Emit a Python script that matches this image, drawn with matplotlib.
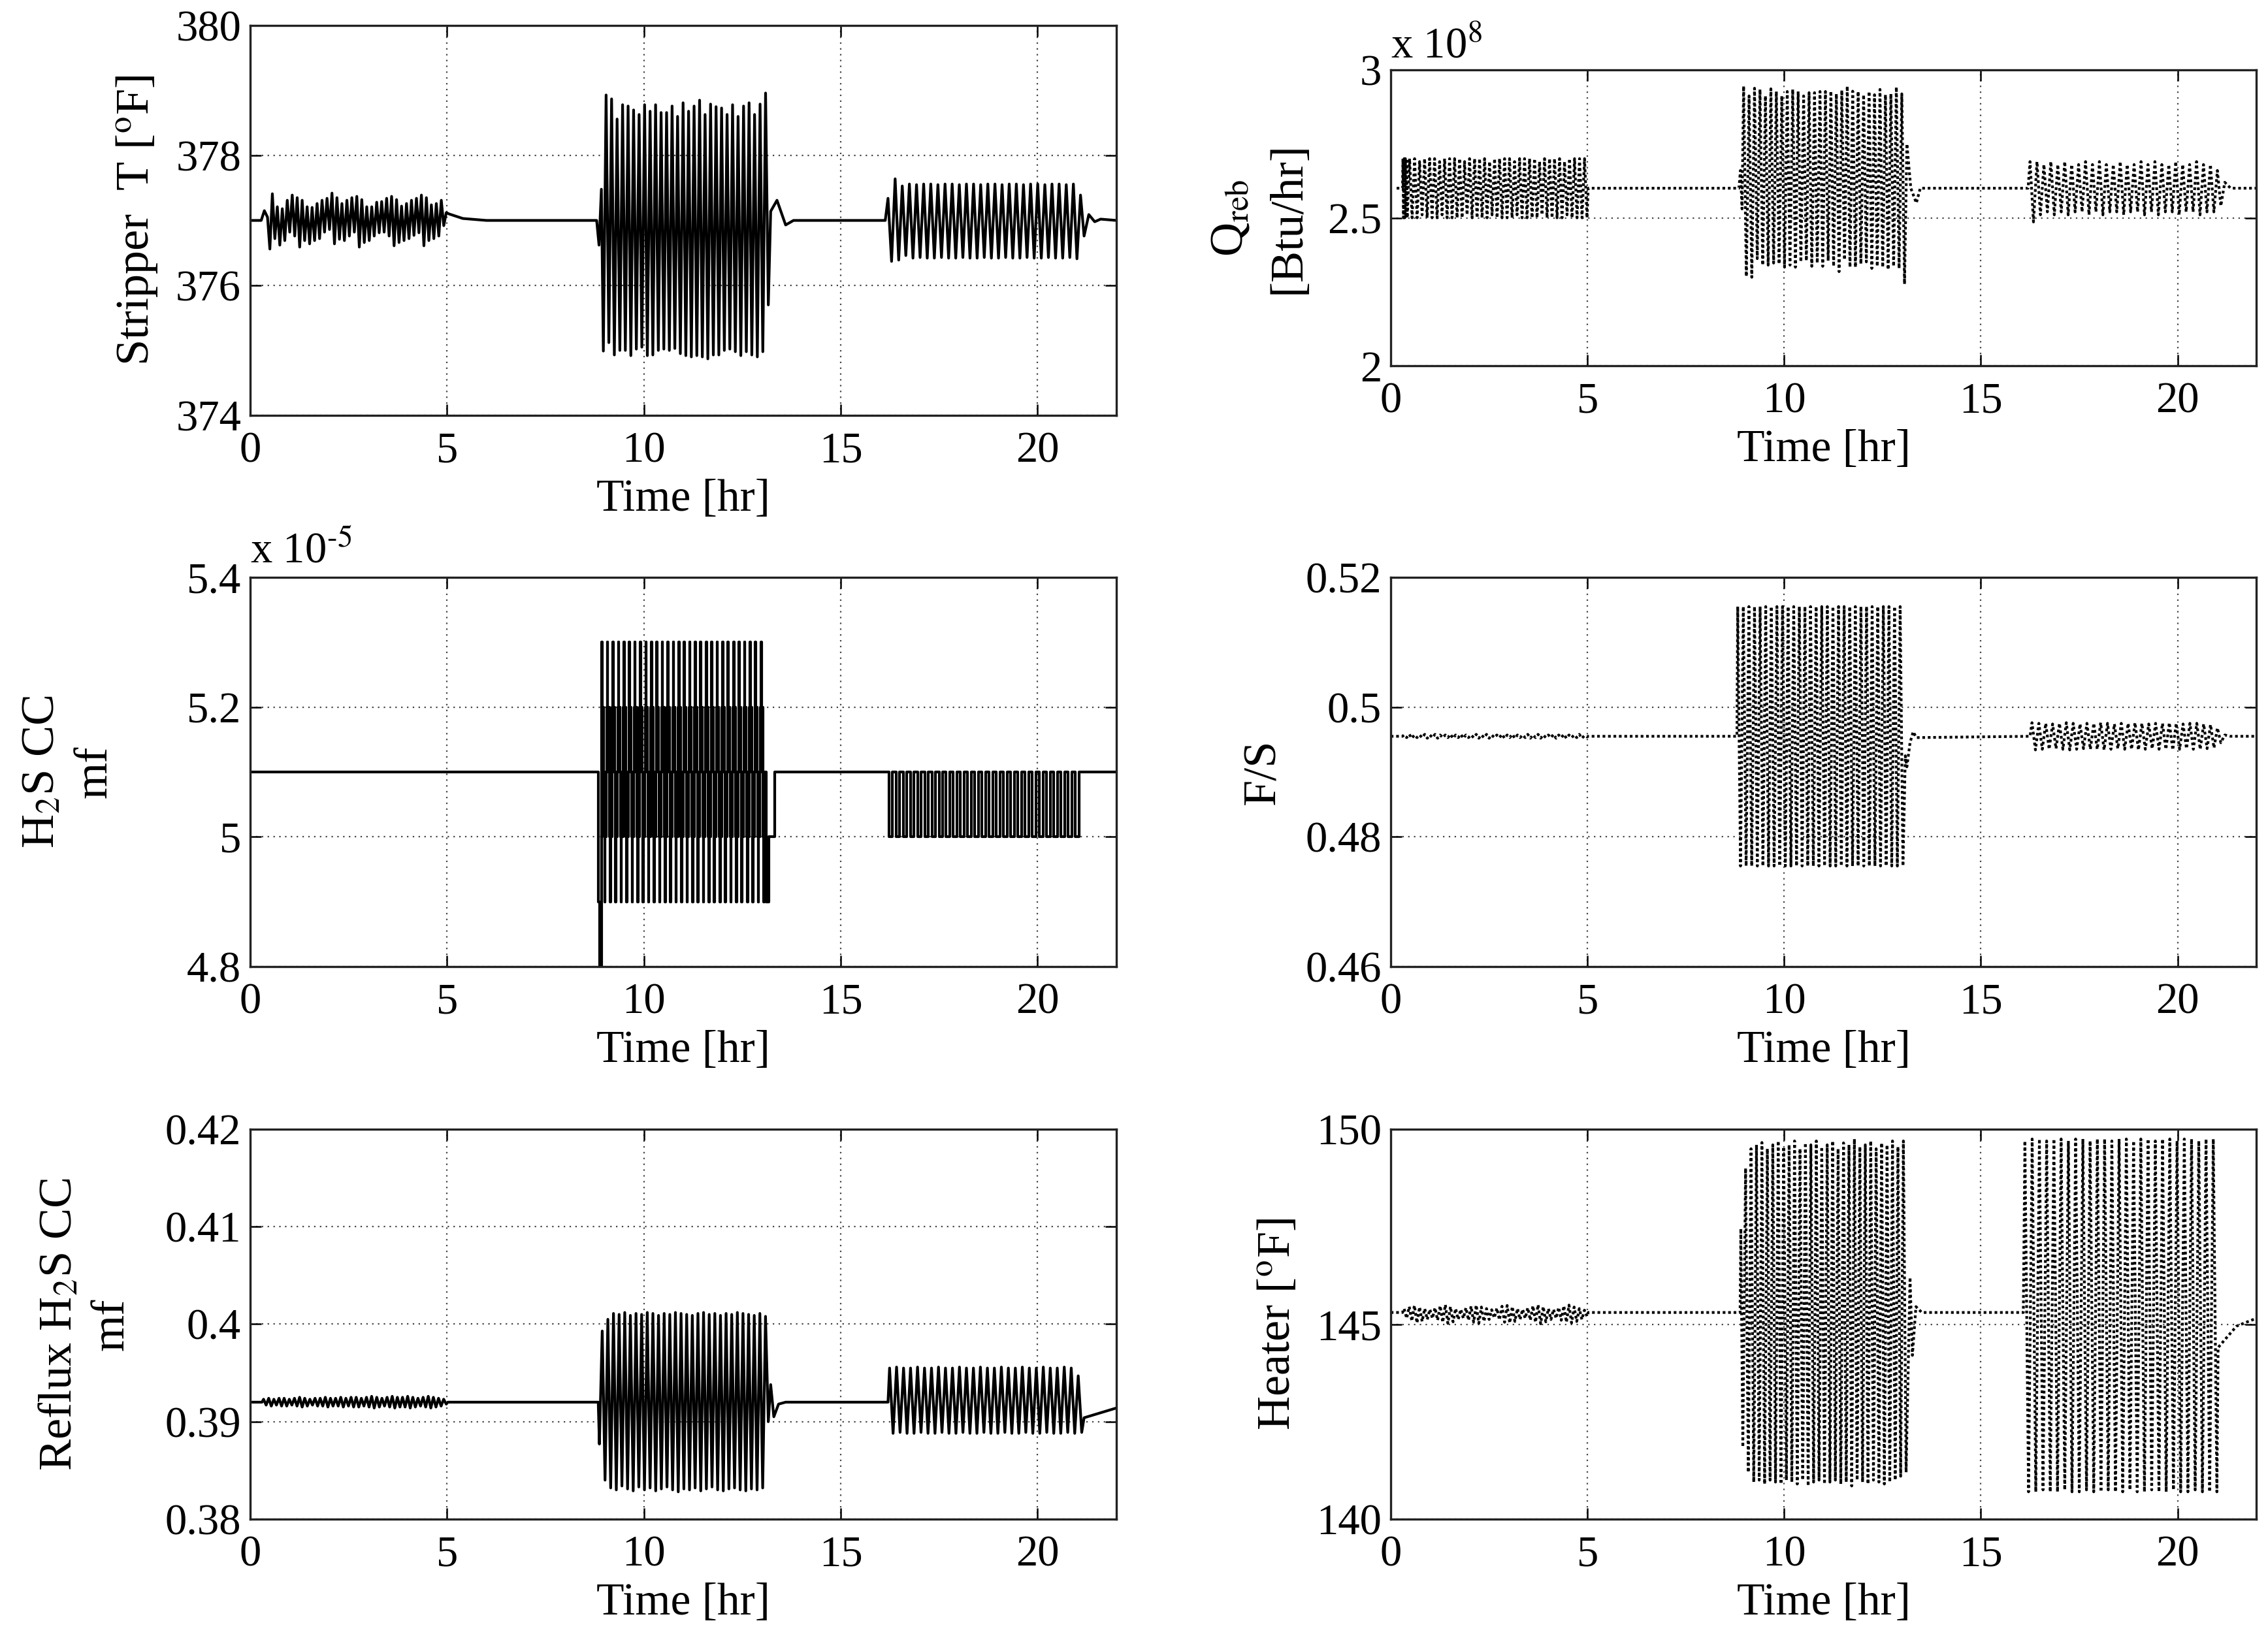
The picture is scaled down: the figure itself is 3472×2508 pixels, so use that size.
import numpy as np
import matplotlib
matplotlib.use("Agg")
import matplotlib.pyplot as plt
from matplotlib.ticker import FormatStrFormatter

plt.rcParams.update({
    "font.family": ["Liberation Serif", "DejaVu Serif"],
    "mathtext.fontset": "stix",
    "font.size": 48,
    "path.simplify": False,
})

# ---------------------------------------------------------------- data
xticks = [0, 5, 10, 15, 20]

# Stripper T [oF]
strip_pre_t = [0.0, 0.28, 0.36, 0.44]
strip_pre_v = [377.0, 377.0, 377.15, 377.05]
strip_A_tr = [376.56, 376.72, 376.62, 376.69, 376.82, 376.76, 376.59, 376.69, 376.64, 376.69, 376.72, 376.82,
              376.86, 376.64, 376.71, 376.69, 376.76, 376.82, 376.59, 376.66, 376.69, 376.76, 376.81, 376.82,
              376.76, 376.61, 376.66, 376.69, 376.72, 376.77, 376.81, 376.61, 376.69, 376.72, 376.76, 376.92]
strip_A_pk = [377.41, 377.21, 377.18, 377.31, 377.39, 377.35, 377.31, 377.21, 377.20, 377.26, 377.31, 377.34,
              377.42, 377.35, 377.26, 377.31, 377.35, 377.37, 377.32, 377.21, 377.21, 377.28, 377.29, 377.34,
              377.37, 377.32, 377.22, 377.26, 377.31, 377.34, 377.39, 377.35, 377.24, 377.26, 377.31, 377.12]
strip_mid1_t = [5.05, 5.4, 6.0, 8.80, 8.86, 8.92]
strip_mid1_v = [377.10, 377.03, 377.0, 377.0, 376.62, 377.48]
strip_B_tr = [374.99, 375.12, 374.93, 375.00, 375.00, 374.92, 375.02, 375.05, 374.92, 374.93, 375.00,
              375.02, 375.00, 375.03, 374.95, 374.92, 374.90, 374.92, 374.90, 374.87, 374.93, 374.93,
              375.00, 375.02, 374.98, 374.92, 374.98, 374.93, 374.90, 374.98, 375.70]
strip_B_pk = [378.93, 378.87, 378.56, 378.78, 378.76, 378.70, 378.63, 378.78, 378.68, 378.78, 378.66,
              378.66, 378.76, 378.60, 378.81, 378.68, 378.76, 378.85, 378.63, 378.79, 378.75, 378.73,
              378.63, 378.78, 378.60, 378.76, 378.81, 378.63, 378.79, 378.96]
strip_mid2_t = [13.22, 13.38, 13.60, 13.80, 16.13]
strip_mid2_v = [377.14, 377.31, 376.93, 377.0, 377.0]
strip_C_pk = [377.34, 377.64, 377.53, 377.56, 377.55, 377.56, 377.56, 377.55, 377.56, 377.56, 377.55, 377.56,
              377.56, 377.55, 377.56, 377.56, 377.55, 377.56, 377.56, 377.55, 377.56, 377.56, 377.55, 377.56,
              377.56, 377.55, 377.56, 377.39]
strip_C_tr = [376.37, 376.39, 376.46, 376.42, 376.43, 376.42, 376.42, 376.43, 376.42, 376.42, 376.43, 376.42,
              376.42, 376.43, 376.42, 376.42, 376.43, 376.42, 376.42, 376.43, 376.42, 376.42, 376.43, 376.42,
              376.42, 376.43, 376.41, 376.76]
strip_post_t = [21.30, 21.45, 21.60, 22.0]
strip_post_v = [377.09, 376.98, 377.02, 377.0]

# H2S CC mf (x 1e-5), sampled/quantised signal (step plot)
h2s_pre_t = [0.0, 8.85, 8.88]
h2s_pre_v = [5.1, 4.9, 4.7]
h2s_B_cycle = [5.2, 5.3, 5.2, 5.1, 5.2, 5.1, 5.0, 4.9, 5.0, 5.1, 5.0, 5.1]
h2s_B_ncycles = 30
h2s_mid_t = [13.10, 13.18, 13.33]
h2s_mid_v = [4.9, 5.0, 5.1]
h2s_C_cycle = [5.0, 5.1]
h2s_C_ncycles = 27
h2s_post_t = [21.14, 22.0]
h2s_post_v = [5.1, 5.1]

# Reflux H2S CC mf
ref_pre_t = [0.0, 0.30]
ref_pre_v = [0.3920, 0.3920]
ref_A_pk = [0.3923, 0.3924, 0.3923, 0.3924, 0.3924, 0.3923, 0.3924, 0.3925, 0.3924, 0.3923, 0.3924, 0.3924,
            0.3925, 0.3924, 0.3924, 0.3925, 0.3924, 0.3925, 0.3925, 0.3924, 0.3925, 0.3926, 0.3925, 0.3924,
            0.3925, 0.3926, 0.3925, 0.3925, 0.3926, 0.3925, 0.3924, 0.3925, 0.3926, 0.3925, 0.3924, 0.3923]
ref_A_tr = [0.3917, 0.3916, 0.3917, 0.3916, 0.3916, 0.3917, 0.3916, 0.3915, 0.3916, 0.3917, 0.3916, 0.3916,
            0.3915, 0.3916, 0.3916, 0.3915, 0.3916, 0.3915, 0.3915, 0.3916, 0.3915, 0.3914, 0.3915, 0.3916,
            0.3915, 0.3914, 0.3915, 0.3915, 0.3914, 0.3915, 0.3916, 0.3915, 0.3914, 0.3915, 0.3916, 0.3918]
ref_mid1_t = [5.02, 8.84]
ref_mid1_v = [0.3920, 0.3920]
ref_B_tr = [0.3877, 0.3840, 0.3832, 0.3830, 0.3834, 0.3831, 0.3829, 0.3833, 0.3830, 0.3832, 0.3829,
            0.3831, 0.3833, 0.3830, 0.3828, 0.3831, 0.3830, 0.3832, 0.3829, 0.3831, 0.3833, 0.3830,
            0.3829, 0.3831, 0.3832, 0.3830, 0.3829, 0.3831, 0.3830, 0.3832, 0.3900]
ref_B_pk = [0.3993, 0.4005, 0.4011, 0.4010, 0.4012, 0.4009, 0.4011, 0.4010, 0.4012, 0.4011, 0.4009,
            0.4011, 0.4010, 0.4012, 0.4011, 0.4010, 0.4009, 0.4011, 0.4012, 0.4010, 0.4011, 0.4009,
            0.4011, 0.4010, 0.4012, 0.4011, 0.4010, 0.4009, 0.4011, 0.4008]
ref_mid2_t = [13.22, 13.30, 13.42, 13.60, 16.20]
ref_mid2_v = [0.3938, 0.3905, 0.3918, 0.3920, 0.3920]
ref_C_pk = [0.3955, 0.3956, 0.3955, 0.3955, 0.3956, 0.3955, 0.3955, 0.3956, 0.3955, 0.3955, 0.3956, 0.3955,
            0.3955, 0.3956, 0.3955, 0.3955, 0.3956, 0.3955, 0.3955, 0.3956, 0.3955, 0.3955, 0.3956, 0.3955,
            0.3955, 0.3956, 0.3955, 0.3947]
ref_C_tr = [0.3888, 0.3889, 0.3888, 0.3888, 0.3889, 0.3888, 0.3888, 0.3889, 0.3888, 0.3888, 0.3889, 0.3888,
            0.3888, 0.3889, 0.3888, 0.3888, 0.3889, 0.3888, 0.3888, 0.3889, 0.3888, 0.3888, 0.3889, 0.3888,
            0.3888, 0.3889, 0.3888, 0.3889]
ref_post_t = [21.18, 22.0]
ref_post_v = [0.3904, 0.3914]

# Q_reb [Btu/hr] (x 1e8)
qreb_pre_t = [0.15, 0.30]
qreb_pre_v = [2.60, 2.60]
qreb_A_lead = [2.70, 2.50, 2.70, 2.50, 2.70, 2.50, 2.70, 2.50]
qreb_A_pk = [2.70, 2.70, 2.69, 2.70, 2.70, 2.70, 2.69, 2.70, 2.70, 2.70, 2.70, 2.69, 2.70, 2.70, 2.70, 2.70,
             2.69, 2.70, 2.70, 2.70, 2.70, 2.69, 2.70, 2.70, 2.70, 2.70, 2.69, 2.70, 2.70, 2.70, 2.70, 2.69,
             2.70, 2.70, 2.70, 2.70]
qreb_A_tr = [2.50, 2.50, 2.51, 2.50, 2.50, 2.50, 2.51, 2.50, 2.50, 2.50, 2.50, 2.51, 2.50, 2.50, 2.50, 2.50,
             2.51, 2.50, 2.50, 2.50, 2.50, 2.51, 2.50, 2.50, 2.50, 2.50, 2.51, 2.50, 2.50, 2.50, 2.50, 2.51,
             2.50, 2.50, 2.50, 2.50]
qreb_mid1_t = [5.02, 8.85, 8.89, 8.93]
qreb_mid1_v = [2.60, 2.60, 2.66, 2.53]
qreb_B_pk = [2.945, 2.912, 2.938, 2.934, 2.912, 2.936, 2.927, 2.912, 2.927, 2.934, 2.927, 2.912, 2.923,
             2.923, 2.927, 2.927, 2.928, 2.919, 2.931, 2.945, 2.928, 2.927, 2.916, 2.927, 2.916, 2.934,
             2.916, 2.919, 2.942, 2.919]
qreb_B_tr = [2.302, 2.299, 2.362, 2.340, 2.340, 2.347, 2.344, 2.333, 2.340, 2.333, 2.351, 2.355, 2.336,
             2.347, 2.336, 2.355, 2.336, 2.318, 2.358, 2.333, 2.333, 2.344, 2.351, 2.329, 2.336, 2.333,
             2.325, 2.336, 2.329, 2.276]
qreb_mid2_t = [13.12, 13.22, 13.36, 13.46, 16.20]
qreb_mid2_v = [2.75, 2.60, 2.55, 2.60, 2.60]
qreb_C_pk = [2.69, 2.69, 2.68, 2.69, 2.68, 2.69, 2.68, 2.68, 2.69, 2.68, 2.69, 2.68, 2.68, 2.69, 2.68, 2.68,
             2.69, 2.68, 2.69, 2.68, 2.68, 2.69, 2.68, 2.68, 2.69, 2.68, 2.68, 2.66]
qreb_C_tr = [2.486, 2.51, 2.52, 2.51, 2.52, 2.51, 2.52, 2.52, 2.51, 2.52, 2.51, 2.52, 2.52, 2.51, 2.52, 2.52,
             2.51, 2.52, 2.51, 2.52, 2.52, 2.51, 2.52, 2.52, 2.51, 2.52, 2.52, 2.54]
qreb_post_t = [21.20, 21.35, 22.0]
qreb_post_v = [2.62, 2.60, 2.60]

# F/S
fs_pre_t = [0.0, 0.30]
fs_pre_v = [0.4955, 0.4955]
fs_A_pk = [0.4957, 0.4958, 0.4957, 0.4957, 0.4958, 0.4957, 0.4958, 0.4957, 0.4957, 0.4958, 0.4957, 0.4958,
           0.4957, 0.4957, 0.4958, 0.4957, 0.4958, 0.4957, 0.4957, 0.4958, 0.4957, 0.4958, 0.4957, 0.4957,
           0.4958, 0.4957, 0.4958, 0.4957, 0.4957, 0.4958, 0.4957, 0.4958, 0.4957, 0.4957, 0.4958, 0.4956]
fs_A_tr = [0.4953, 0.4952, 0.4953, 0.4953, 0.4952, 0.4953, 0.4952, 0.4953, 0.4953, 0.4952, 0.4953, 0.4952,
           0.4953, 0.4953, 0.4952, 0.4953, 0.4952, 0.4953, 0.4953, 0.4952, 0.4953, 0.4952, 0.4953, 0.4953,
           0.4952, 0.4953, 0.4952, 0.4953, 0.4953, 0.4952, 0.4953, 0.4952, 0.4953, 0.4953, 0.4952, 0.4954]
fs_mid1_t = [5.02, 8.80]
fs_mid1_v = [0.4955, 0.4955]
fs_B_pk = [0.5155, 0.5155, 0.5155, 0.5155, 0.5155, 0.5155, 0.5155, 0.5155, 0.5155, 0.5155, 0.5155, 0.5155,
           0.5155, 0.5155, 0.5155, 0.5155, 0.5155, 0.5155, 0.5155, 0.5155, 0.5155, 0.5155, 0.5155, 0.5155,
           0.5155, 0.5155, 0.5155, 0.5155, 0.5155, 0.5155]
fs_B_tr = [0.4755, 0.4755, 0.4755, 0.4755, 0.4755, 0.4755, 0.4755, 0.4755, 0.4755, 0.4755, 0.4755, 0.4755,
           0.4755, 0.4755, 0.4755, 0.4755, 0.4755, 0.4755, 0.4755, 0.4755, 0.4755, 0.4755, 0.4755, 0.4755,
           0.4755, 0.4755, 0.4755, 0.4755, 0.4755, 0.4755]
fs_mid2_t = [13.08, 13.12, 13.20, 13.28, 13.36, 16.25]
fs_mid2_v = [0.4925, 0.4908, 0.4945, 0.4962, 0.4953, 0.4955]
fs_C_pk = [0.4976, 0.4975, 0.4975, 0.4974, 0.4975, 0.4976, 0.4975, 0.4974, 0.4975, 0.4975, 0.4976, 0.4975,
           0.4974, 0.4975, 0.4975, 0.4976, 0.4975, 0.4974, 0.4975, 0.4975, 0.4976, 0.4975, 0.4974, 0.4975,
           0.4975, 0.4974, 0.4973, 0.4968]
fs_C_tr = [0.4934, 0.4935, 0.4935, 0.4936, 0.4935, 0.4934, 0.4935, 0.4936, 0.4935, 0.4935, 0.4934, 0.4935,
           0.4936, 0.4935, 0.4935, 0.4934, 0.4935, 0.4936, 0.4935, 0.4935, 0.4934, 0.4935, 0.4936, 0.4935,
           0.4935, 0.4936, 0.4937, 0.4945]
fs_post_t = [21.20, 21.35, 22.0]
fs_post_v = [0.4957, 0.4955, 0.4955]

# Heater [oF]
heat_pre_t = [0.0, 0.30]
heat_pre_v = [145.3, 145.3]
heat_A_pk = [145.40, 145.45, 145.48, 145.44, 145.40, 145.38, 145.42, 145.47, 145.50, 145.45, 145.40, 145.38,
             145.42, 145.46, 145.49, 145.44, 145.40, 145.37, 145.41, 145.46, 145.48, 145.45, 145.40, 145.38,
             145.42, 145.47, 145.50, 145.45, 145.40, 145.38, 145.43, 145.47, 145.49, 145.44, 145.40, 145.36]
heat_A_tr = [145.15, 145.08, 145.03, 145.07, 145.12, 145.15, 145.10, 145.05, 145.02, 145.06, 145.12, 145.15,
             145.10, 145.05, 145.02, 145.07, 145.12, 145.16, 145.11, 145.05, 145.03, 145.07, 145.12, 145.15,
             145.10, 145.05, 145.01, 145.06, 145.12, 145.15, 145.10, 145.05, 145.03, 145.07, 145.12, 145.20]
heat_mid1_t = [5.02, 8.88, 8.90, 8.95]
heat_mid1_v = [145.3, 145.3, 147.45, 141.85]
heat_B_pk = [149.0, 149.5, 149.6, 149.66, 149.5, 149.6, 149.7, 149.55, 149.6, 149.7, 149.5, 149.65, 149.6,
             149.7, 149.55, 149.6, 149.7, 149.5, 149.65, 149.6, 149.75, 149.55, 149.6, 149.7, 149.5, 149.65,
             149.6, 149.7, 149.55, 149.7]
heat_B_tr = [141.2, 140.95, 141.0, 140.9, 141.0, 140.95, 140.9, 141.0, 140.95, 140.9, 141.0, 140.85, 140.95,
             141.0, 140.9, 140.95, 141.0, 140.9, 140.95, 140.85, 141.0, 140.95, 140.9, 141.0, 140.95, 140.9,
             140.95, 141.0, 141.1, 141.2]
heat_mid2_t = [13.20, 13.26, 13.35, 13.50, 16.08]
heat_mid2_v = [146.2, 144.2, 145.45, 145.3, 145.3]
heat_C_pk = [149.7, 149.75, 149.75, 149.7, 149.75, 149.75, 149.7, 149.75, 149.75, 149.7, 149.75, 149.75,
             149.7, 149.75, 149.75, 149.7, 149.75, 149.75, 149.7, 149.75, 149.75, 149.7, 149.75, 149.75,
             149.7, 149.75, 149.75]
heat_C_tr = [140.7, 140.7, 140.75, 140.7, 140.7, 140.75, 140.7, 140.7, 140.75, 140.7, 140.7, 140.75,
             140.7, 140.7, 140.75, 140.7, 140.7, 140.75, 140.7, 140.7, 140.75, 140.7, 140.7, 140.75,
             140.7, 140.7, 140.7]
heat_post_t = [21.03, 21.20, 21.50, 22.0]
heat_post_v = [144.4, 144.6, 144.95, 145.15]


# ---------------------------------------------------------------- helpers
def burst(t0, t1, first, second):
    """Alternate extremes (first[0], second[0], first[1], ...) spread over [t0, t1]."""
    vals = []
    for i in range(max(len(first), len(second))):
        if i < len(first):
            vals.append(first[i])
        if i < len(second):
            vals.append(second[i])
    return np.linspace(t0, t1, len(vals)), np.array(vals)


def join(*pieces):
    t = np.concatenate([np.asarray(p[0], float) for p in pieces])
    v = np.concatenate([np.asarray(p[1], float) for p in pieces])
    return t, v


strip_t, strip_v = join((strip_pre_t, strip_pre_v),
                        burst(0.50, 4.98, strip_A_tr, strip_A_pk),
                        (strip_mid1_t, strip_mid1_v),
                        burst(8.97, 13.16, strip_B_tr, strip_B_pk),
                        (strip_mid2_t, strip_mid2_v),
                        burst(16.20, 21.18, strip_C_pk, strip_C_tr),
                        (strip_post_t, strip_post_v))

hB = np.tile(h2s_B_cycle, h2s_B_ncycles)
hC = np.tile(h2s_C_cycle, h2s_C_ncycles)
h2s_t, h2s_v = join((h2s_pre_t, h2s_pre_v),
                    (np.linspace(8.92, 13.10, len(hB), endpoint=False), hB),
                    (h2s_mid_t, h2s_mid_v),
                    (np.linspace(16.22, 21.14, len(hC), endpoint=False), hC),
                    (h2s_post_t, h2s_post_v))

ref_t, ref_v = join((ref_pre_t, ref_pre_v),
                    burst(0.34, 4.98, ref_A_pk, ref_A_tr),
                    (ref_mid1_t, ref_mid1_v),
                    burst(8.87, 13.16, ref_B_tr, ref_B_pk),
                    (ref_mid2_t, ref_mid2_v),
                    burst(16.24, 21.12, ref_C_pk, ref_C_tr),
                    (ref_post_t, ref_post_v))

qreb_t, qreb_v = join((qreb_pre_t, qreb_pre_v),
                      (np.linspace(0.31, 0.42, len(qreb_A_lead)), qreb_A_lead),
                      burst(0.48, 4.99, qreb_A_pk, qreb_A_tr),
                      (qreb_mid1_t, qreb_mid1_v),
                      burst(8.97, 13.06, qreb_B_pk, qreb_B_tr),
                      (qreb_mid2_t, qreb_mid2_v),
                      burst(16.25, 21.10, qreb_C_pk, qreb_C_tr),
                      (qreb_post_t, qreb_post_v))

fs_t, fs_v = join((fs_pre_t, fs_pre_v),
                  burst(0.34, 4.99, fs_A_pk, fs_A_tr),
                  (fs_mid1_t, fs_mid1_v),
                  burst(8.82, 13.02, fs_B_pk, fs_B_tr),
                  (fs_mid2_t, fs_mid2_v),
                  burst(16.30, 21.10, fs_C_pk, fs_C_tr),
                  (fs_post_t, fs_post_v))

heat_t, heat_v = join((heat_pre_t, heat_pre_v),
                      burst(0.34, 4.99, heat_A_pk, heat_A_tr),
                      (heat_mid1_t, heat_mid1_v),
                      burst(9.02, 13.10, heat_B_pk, heat_B_tr),
                      (heat_mid2_t, heat_mid2_v),
                      burst(16.12, 21.00, heat_C_pk, heat_C_tr),
                      (heat_post_t, heat_post_v))

# ---------------------------------------------------------------- figure
fig = plt.figure(figsize=(34.72, 25.08), dpi=100)
W, H = 3472.0, 2508.0


def make_ax(x0, y_top, x1, y_bot):
    return fig.add_axes([x0 / W, 1 - y_bot / H, (x1 - x0) / W, (y_bot - y_top) / H])


axs = {
    "strip": make_ax(383, 39, 1709, 636),
    "qreb": make_ax(2129, 107, 3454, 560),
    "h2s": make_ax(383, 884, 1709, 1480),
    "fs": make_ax(2129, 884, 3454, 1480),
    "ref": make_ax(383, 1729, 1709, 2326),
    "heat": make_ax(2129, 1729, 3454, 2326),
}

dotted = dict(color="black", lw=3.0, linestyle=(0, (1.0, 1.0)))
solid = dict(color="black", lw=3.0)

axs["strip"].plot(strip_t, strip_v, **solid)
axs["h2s"].plot(h2s_t, h2s_v, drawstyle="steps-post", color="black", lw=3.0)
axs["ref"].plot(ref_t, ref_v, **solid)
axs["qreb"].plot(qreb_t, qreb_v, **dotted)
axs["fs"].plot(fs_t, fs_v, **dotted)
axs["heat"].plot(heat_t, heat_v, **dotted)

# (ylim, yticks, ylabel, label right-edge x in axes fraction, linespacing)
settings = {
    "strip": ((374, 380), [374, 376, 378, 380], "Stripper  T [$^{\\rm o}$F]", -0.105, 1.0),
    "qreb": ((2, 3), [2, 2.5, 3], "Q$_{\\rm reb}$\n[Btu/hr]", -0.094, 1.45),
    "h2s": ((4.8, 5.4), [4.8, 5.0, 5.2, 5.4], "H$_2$S CC\nmf", -0.155, 1.3),
    "fs": ((0.46, 0.52), [0.46, 0.48, 0.50, 0.52], "F/S", -0.123, 1.0),
    "ref": ((0.38, 0.42), [0.38, 0.39, 0.40, 0.41, 0.42], "Reflux H$_2$S CC\nmf", -0.135, 1.3),
    "heat": ((140, 150), [140, 145, 150], "Heater [$^{\\rm o}$F]", -0.106, 1.0),
}

for key, ax in axs.items():
    ylim, yt, ylab, lx, ls = settings[key]
    ax.set_xlim(0, 22)
    ax.set_ylim(*ylim)
    ax.set_xticks(xticks)
    ax.set_yticks(yt)
    ax.yaxis.set_major_formatter(FormatStrFormatter("%g"))
    ax.grid(True, linestyle=(0, (1, 3)), color="#444444", lw=1.6)
    ax.tick_params(direction="in", top=True, right=True, length=12, width=1.8)
    ax.tick_params(axis="x", pad=18)
    ax.tick_params(axis="y", pad=10)
    for s in ax.spines.values():
        s.set_linewidth(2.4)
        s.set_color("#222222")
    ax.set_xlabel("Time [hr]", labelpad=8, fontsize=50)
    ax.set_ylabel(ylab, linespacing=ls, fontsize=52)
    ax.yaxis.set_label_coords(lx, 0.5)

axs["qreb"].text(0.0, 1.01, "x 10$^{8}$", transform=axs["qreb"].transAxes, ha="left", va="bottom")
axs["h2s"].text(0.0, 1.015, "x 10$^{\\text{-5}}$", transform=axs["h2s"].transAxes, ha="left", va="bottom")

fig.savefig("out.png", dpi=100, facecolor="white")
